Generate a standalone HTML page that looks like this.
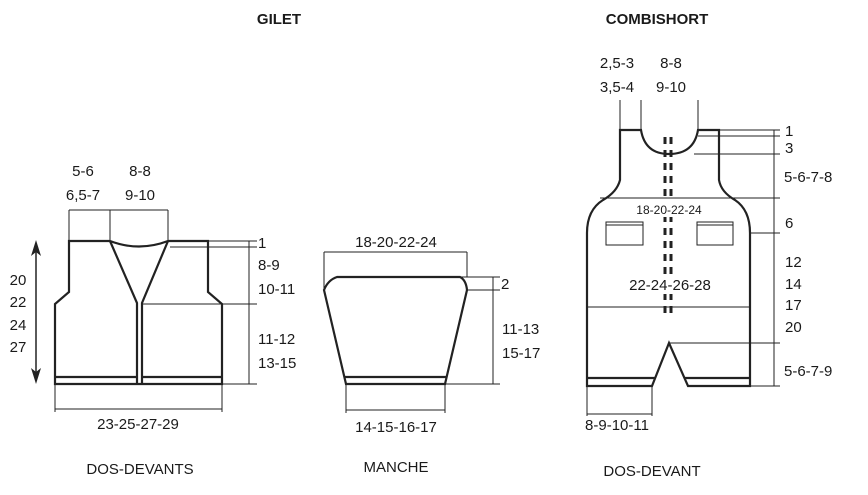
<!DOCTYPE html>
<html><head><style>
body{margin:0;background:#fff}
svg{display:block}
text{font-family:"Liberation Sans",sans-serif;fill:#1a1a1a}
</style></head><body>
<svg width="868" height="495" viewBox="0 0 868 495" xmlns="http://www.w3.org/2000/svg">
<g font-size="15" text-anchor="middle">
<text x="279" y="24" font-weight="bold">GILET</text>
<text x="657" y="24" font-weight="bold">COMBISHORT</text>
<text x="140" y="474">DOS-DEVANTS</text>
<text x="396" y="472">MANCHE</text>
<text x="652" y="476">DOS-DEVANT</text>
</g>
<!-- GILET -->
<g fill="none" stroke="#222" stroke-width="2.2">
<path d="M69,241 H110 Q139,252 168,241 H208 V292 L222,304 V384 H55 V304 L69,292 Z"/>
<path d="M110,241 L137,303 V384 M168,241 L142,303 V384"/>
<path d="M55,377 H137 M142,377 H222"/>
</g>
<g fill="none" stroke="#222" stroke-width="1">
<path d="M69,210 H168 M69,210 V241 M110,210 V241 M168,210 V241"/>
<path d="M249,241 V384 M208,241 H257 M170,247 H257 M142,304 H257 M222,384 H257"/>
<path d="M55,384 V412 M222,384 V412 M55,409 H222"/>
<path d="M36,250 V376" stroke-width="1.5"/>
</g>
<path d="M36,240 L31,256 L36,252 L41,256Z M36,384 L31,368 L36,372 L41,368Z" fill="#222"/>
<g font-size="15" text-anchor="middle">
<text x="83" y="176">5-6</text><text x="83" y="200">6,5-7</text>
<text x="140" y="176">8-8</text><text x="140" y="200">9-10</text>
<text x="18" y="285">20</text><text x="18" y="307">22</text><text x="18" y="330">24</text><text x="18" y="352">27</text>
<text x="138" y="429">23-25-27-29</text>
</g>
<g font-size="15">
<text x="258" y="248">1</text>
<text x="258" y="270">8-9</text><text x="258" y="294">10-11</text>
<text x="258" y="344">11-12</text><text x="258" y="368">13-15</text>
</g>
<!-- MANCHE -->
<g fill="none" stroke="#222" stroke-width="2.2">
<path d="M337,277 H460 Q466,280 467,290 L445,384 H346 L324,290 Q328,280 337,277Z"/>
<path d="M344,377 H447"/>
</g>
<g fill="none" stroke="#222" stroke-width="1">
<path d="M324,252 H467 M324,252 V290 M467,252 V277"/>
<path d="M493,277 V384 M460,277 H500 M467,290 H500 M445,384 H500"/>
<path d="M346,384 V413 M445,384 V413 M346,410 H445"/>
</g>
<g font-size="15">
<text x="396" y="247" text-anchor="middle">18-20-22-24</text>
<text x="501" y="289">2</text>
<text x="502" y="334">11-13</text><text x="502" y="358">15-17</text>
<text x="396" y="432" text-anchor="middle">14-15-16-17</text>
</g>
<!-- COMBISHORT -->
<g fill="none" stroke="#222" stroke-width="2.2">
<path d="M620,130 H641 Q645,154 669,154 Q694,154 698,130 H719 V180 Q721,192 735,200 Q750,210 750,233 V386 H688 L669,343 L652,386 H587 V233 Q587,210 603,200 Q617,192 620,180 Z"/>
<path d="M587,378 H655 M685,378 H750"/>
</g>
<g fill="none" stroke="#222" stroke-width="3" stroke-dasharray="7,6">
<path d="M665,137 V318 M671,137 V318"/>
</g>
<rect x="634" y="201" width="72" height="16" fill="#fff"/>
<rect x="624" y="275" width="92" height="19" fill="#fff"/>
<g fill="none" stroke="#222" stroke-width="1">
<path d="M620,100 V130 M641,100 V130 M698,100 V130 M620,130 H641"/>
<path d="M774,130 V386 M719,130 H780 M698,136 H780 M694,154 H780 M600,198 H780 M750,233 H780 M669,343 H780 M750,386 H780"/>
<path d="M587,307 H750"/>
<path d="M606,222 H643 V245 H606 Z M606,225 H643 M697,222 H733 V245 H697 Z M697,225 H733"/>
<path d="M587,386 V416 M652,386 V416 M587,414 H652"/>
</g>
<g font-size="15">
<text x="617" y="68" text-anchor="middle">2,5-3</text><text x="617" y="92" text-anchor="middle">3,5-4</text>
<text x="671" y="68" text-anchor="middle">8-8</text><text x="671" y="92" text-anchor="middle">9-10</text>
<text x="669" y="214" text-anchor="middle" font-size="12">18-20-22-24</text>
<text x="670" y="290" text-anchor="middle">22-24-26-28</text>
<text x="785" y="136">1</text><text x="785" y="153">3</text>
<text x="784" y="182">5-6-7-8</text>
<text x="785" y="228">6</text>
<text x="785" y="267">12</text><text x="785" y="289">14</text><text x="785" y="310">17</text><text x="785" y="332">20</text>
<text x="784" y="376">5-6-7-9</text>
<text x="617" y="430" text-anchor="middle">8-9-10-11</text>
</g>
</svg>
</body></html>
